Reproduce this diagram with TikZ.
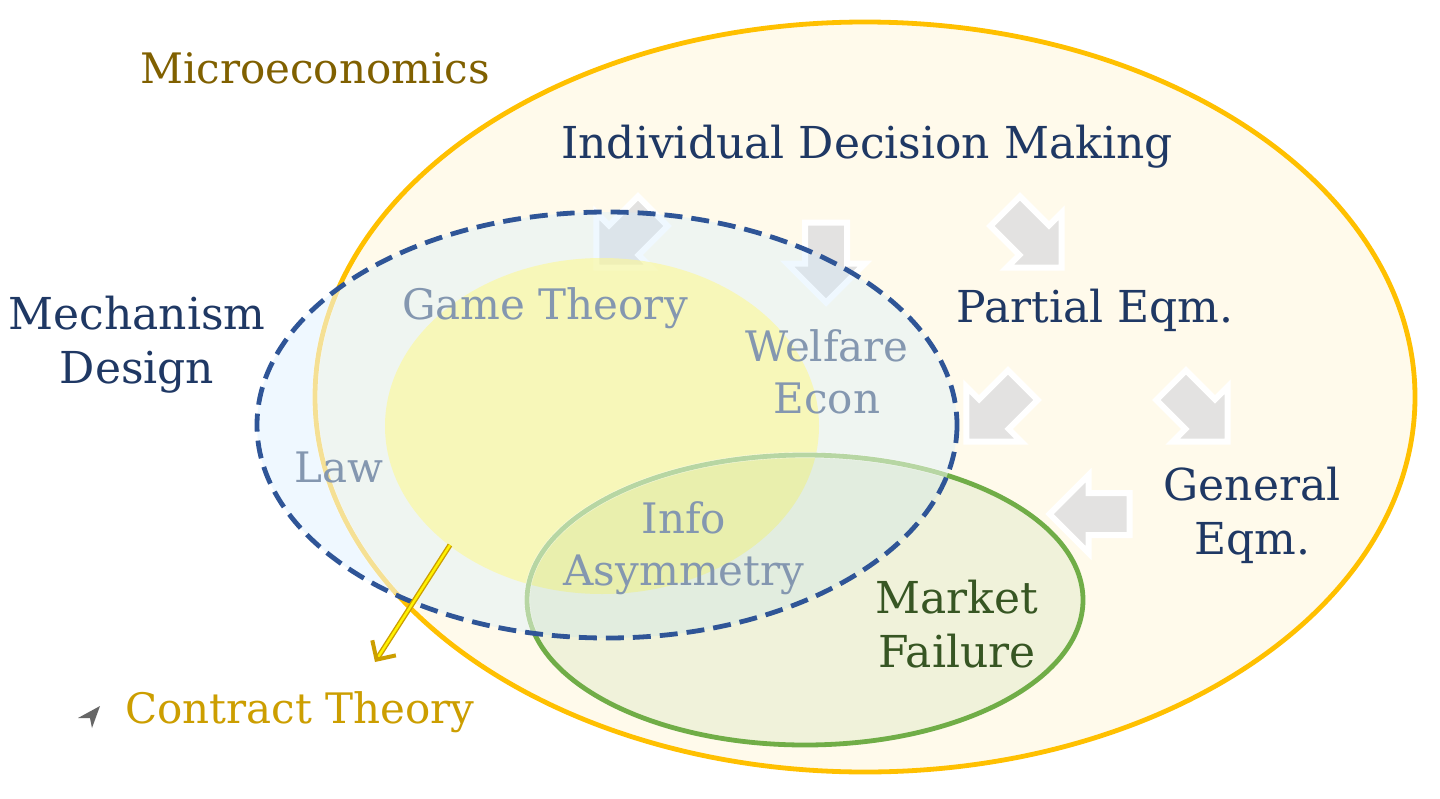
\documentclass[tikz,border=0pt]{standalone}
\usepackage{fontspec}
\setmainfont{DejaVu Serif}
\usetikzlibrary{shapes.arrows,arrows.meta}
\definecolor{gold}{HTML}{FFC000}
\definecolor{navy}{HTML}{1F3864}
\definecolor{dashc}{HTML}{2F5597}
\definecolor{mutd}{HTML}{8497B0}
\definecolor{mgreen}{HTML}{70AD47}
\definecolor{dgreen}{HTML}{375623}
\definecolor{ctc}{HTML}{CC9E00}
\begin{document}
\begin{tikzpicture}[x=0.5pt,y=-0.5pt,
  lbl/.style={font=\fontsize{22}{27}\selectfont,align=center,text=navy},
  inl/.style={font=\fontsize{21}{26}\selectfont,align=center,text=mutd},
  blk/.style={single arrow,draw=white,line width=3pt,fill=black!12,minimum height=40pt,inner sep=9pt,single arrow head extend=9pt,fill opacity=0.9}]
\useasboundingbox (0,0) rectangle (1440,798);
\fill[white] (0,0) rectangle (1440,798);
\draw[gold,line width=2.4pt,fill=gold!8] (865,397) ellipse [x radius=550,y radius=375];
\node[blk,rotate=-135] (a1) at (632,232) {};
\node[blk,rotate=-90] (a2) at (826,252) {};
\node[blk,rotate=-45] (a3) at (1026,232) {};
\node[blk,rotate=-135] (a4) at (1002,406) {};
\node[blk,rotate=-45] (a5) at (1192,406) {};
\node[blk,rotate=180] (a6) at (1100,514) {};
\fill[blue!40!cyan!20,opacity=0.3] (607,425) ellipse [x radius=350,y radius=213];
\fill[yellow!45,opacity=0.55] (602,426) ellipse [x radius=217,y radius=168];
\draw[mgreen,line width=2.4pt,fill=mgreen,fill opacity=0.1,draw opacity=1] (805,600) ellipse [x radius=278,y radius=145];
\begin{scope}
\clip (607,425) ellipse [x radius=350,y radius=213];
\draw[white,line width=3pt,opacity=0.5] (805,600) ellipse [x radius=278,y radius=145];
\draw[white,line width=3pt,opacity=0.4] (865,397) ellipse [x radius=550,y radius=375];
\end{scope}
\draw[dashc,line width=2.4pt,dash pattern=on 9pt off 4.5pt] (607,425) ellipse [x radius=350,y radius=213];
\node[font=\fontsize{21}{26}\selectfont,text=gold!50!black] (mic) at (315,68) {Microeconomics};
\node[lbl] (idm) at (867,147) {Individual Decision Making};
\node[lbl] (pe) at (1095,310) {Partial Eqm.};
\node[lbl] (ge) at (1252,515) {General\\Eqm.};
\node[lbl] (md) at (137,345) {Mechanism\\Design};
\node[inl] (gt) at (545,308) {Game Theory};
\node[inl] (we) at (827,372) {Welfare\\Econ};
\node[inl] (law) at (339,467) {Law};
\node[inl] (ia) at (684,548) {Info\\Asymmetry};
\node[lbl,text=dgreen] (mf) at (957,624) {Market\\Failure};
\coordinate (cs) at (450,545);
\node[font=\fontsize{21}{26}\selectfont,text=ctc] (ct) at (300,712) {Contract Theory};
\coordinate (ce) at (375,662);
\draw[ctc,double=yellow,double distance=1.2pt,line width=0.7pt,-{Straight Barb[length=7pt,width=14pt,line width=2pt]}] (cs) -- (ce);
\fill[black!60] (78,718) -- (100,706) -- (92,728) -- (90,718) -- cycle;
\end{tikzpicture}
\end{document}
